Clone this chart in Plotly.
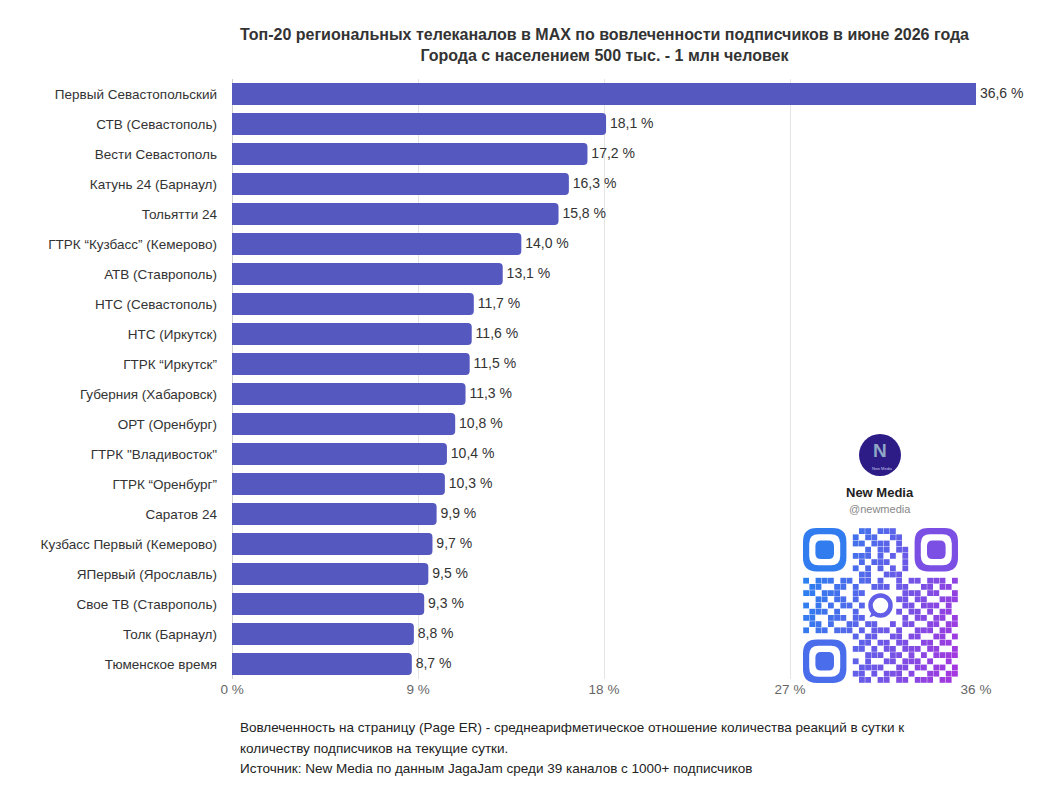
import plotly.graph_objects as go

channels = [
    "Первый Севастопольский", "СТВ (Севастополь)", "Вести Севастополь",
    "Катунь 24 (Барнаул)", "Тольятти 24", "ГТРК “Кузбасс” (Кемерово)",
    "АТВ (Ставрополь)", "НТС (Севастополь)", "НТС (Иркутск)", "ГТРК “Иркутск”",
    "Губерния (Хабаровск)", "ОРТ (Оренбург)", "ГТРК \"Владивосток\"",
    "ГТРК “Оренбург”", "Саратов 24", "Кузбасс Первый (Кемерово)",
    "ЯПервый (Ярославль)", "Свое ТВ (Ставрополь)", "Толк (Барнаул)",
    "Тюменское время",
]
values = [36.6, 18.1, 17.2, 16.3, 15.8, 14.0, 13.1, 11.7, 11.6, 11.5,
          11.3, 10.8, 10.4, 10.3, 9.9, 9.7, 9.5, 9.3, 8.8, 8.7]
tick_vals = [0, 9, 18, 27, 36]
tick_text = ["0 %", "9 %", "18 %", "27 %", "36 %"]
x_max = 36

title_text = ("Топ-20 региональных телеканалов в MAX по вовлеченности подписчиков в июне 2026 года"
              "<br>Города с населением 500 тыс. - 1 млн человек")
footer_lines = [
    "Вовлеченность на страницу (Page ER) - среднеарифметическое отношение количества реакций в сутки к",
    "количеству подписчиков на текущие сутки.",
    "Источник: New Media по данным JagaJam среди 39 каналов с 1000+ подписчиков",
]

W, H = 1050, 800
L, R, T, B = 232, 74, 79, 121
PW, PH = W - L - R, H - T - B


def px(x):
    return (x - L) / PW


def py(y):
    return (H - B - y) / PH


FONT = "Liberation Sans, Arial, sans-serif"
labels = [f"{v:.1f}".replace(".", ",") + " %" for v in values]

fig = go.Figure()
fig.add_trace(go.Bar(
    x=values, y=channels, orientation="h",
    marker=dict(color="#5558BF", line=dict(width=0)),
    hoverinfo="skip",
))
fig.add_trace(go.Scatter(
    x=[min(v, x_max) for v in values], y=channels, mode="text",
    text=[" " + s for s in labels], textposition="middle right",
    textfont=dict(size=14, color="#333333", family=FONT),
    cliponaxis=False, hoverinfo="skip",
))

fig.update_layout(
    width=W, height=H, margin=dict(l=L, r=R, t=T, b=B, autoexpand=False),
    paper_bgcolor="white", plot_bgcolor="white",
    bargap=0.26, barcornerradius=4, showlegend=False,
    font=dict(family=FONT, color="#333333"),
)
fig.update_xaxes(range=[0, x_max], tickvals=tick_vals, ticktext=tick_text,
                 showgrid=True, gridcolor="#e4e4e4", gridwidth=1,
                 zeroline=True, zerolinecolor="#cfcfcf", zerolinewidth=1,
                 tickfont=dict(size=13.5, color="#666666"), ticks="", fixedrange=True,
                 automargin=False)
fig.update_yaxes(range=[len(channels) - 0.5, -0.5], tickfont=dict(size=13.5, color="#333333"),
                 ticks="", ticklabelstandoff=14, showgrid=False, automargin=False)

ann = []
ann.append(dict(text="<b>" + title_text + "</b>", x=px(604), y=py(45), xref="paper", yref="paper",
                showarrow=False, xanchor="center", yanchor="middle",
                font=dict(size=16, color="#333333", family=FONT), align="center"))
for i, line in enumerate(footer_lines):
    ann.append(dict(text=line, x=px(238), y=py(728 + 20 * i), xref="paper", yref="paper",
                    showarrow=False, xanchor="left", yanchor="middle",
                    font=dict(size=13.5, color="#222222", family=FONT)))

# Logo / handle
cx, cy, r = 880, 455, 21
shapes = []
shapes.append(dict(type="circle", xref="paper", yref="paper",
                   x0=px(cx - r), x1=px(cx + r), y0=py(cy + r), y1=py(cy - r),
                   fillcolor="#2d1b86", line=dict(width=0)))
ann.append(dict(text="<b>N</b>", x=px(cx), y=py(cy - 5), xref="paper", yref="paper",
                showarrow=False, xanchor="center", yanchor="middle",
                font=dict(size=19, color="#8fa6c4", family=FONT)))
ann.append(dict(text="New Media", x=px(cx + 2), y=py(cy + 13), xref="paper", yref="paper",
                showarrow=False, xanchor="center", yanchor="middle",
                font=dict(size=4, color="#c8c8ee", family=FONT)))
ann.append(dict(text="<b>New Media</b>", x=px(cx), y=py(493), xref="paper", yref="paper",
                showarrow=False, xanchor="center", yanchor="middle",
                font=dict(size=13, color="#222222", family=FONT)))
ann.append(dict(text="@newmedia", x=px(cx), y=py(509), xref="paper", yref="paper",
                showarrow=False, xanchor="center", yanchor="middle",
                font=dict(size=11, color="#888888", family=FONT)))

# QR-like decoration
qx0, qy0, qs = 803, 528, 155
N = 25
m = qs / N
rows = [
    "........" + "011011100" + "........",
    "........" + "101100110" + "........",
    "........" + "110111010" + "........",
    "........" + "001011011" + "........",
    "........" + "111010101" + "........",
    "........" + "010111001" + "........",
    "........" + "101010101" + "........",
    "........" + "011001110" + "........",
    "1011101101101001011011101",
    "0110011010011101100110110",
    "1101110011.....0111011001",
    "0011011010.....1101100111",
    "1010101101.....0110111010",
    "0111010010.....1011010110",
    "1100111011.....0101101101",
    "0110100110110010110011011",
    "1011011101011101001110110",
    "........" + "10110011011001101",
    "........" + "01101101100110110",
    "........" + "11010110111011001",
    "........" + "00111011010101111",
    "........" + "10100110111010010",
    "........" + "01111001101101101",
    "........" + "11010111010011011",
    "........" + "01101101101110110",
]
c_start = (30, 136, 242)
c_end = (168, 52, 222)


def grad(xp, yp):
    t = 0.75 * (xp - qx0) / qs + 0.25 * (yp - qy0) / qs
    t = max(0.0, min(1.0, t))
    c = [int(round(a + (b - a) * t)) for a, b in zip(c_start, c_end)]
    return f"rgb({c[0]},{c[1]},{c[2]})"


for ri, row in enumerate(rows):
    row = row.ljust(N, "0")[:N]
    for ci, ch in enumerate(row):
        if ch == "1":
            x0 = qx0 + ci * m
            y0 = qy0 + ri * m
            shapes.append(dict(type="rect", xref="paper", yref="paper",
                               x0=px(x0 + 0.2), x1=px(x0 + m - 0.2),
                               y0=py(y0 + m - 0.2), y1=py(y0 + 0.2),
                               fillcolor=grad(x0 + m / 2, y0 + m / 2), line=dict(width=0)))


def rrect(x0, y0, x1, y1, rad):
    p = [
        f"M {px(x0 + rad)},{py(y0)}",
        f"L {px(x1 - rad)},{py(y0)}",
        f"Q {px(x1)},{py(y0)} {px(x1)},{py(y0 + rad)}",
        f"L {px(x1)},{py(y1 - rad)}",
        f"Q {px(x1)},{py(y1)} {px(x1 - rad)},{py(y1)}",
        f"L {px(x0 + rad)},{py(y1)}",
        f"Q {px(x0)},{py(y1)} {px(x0)},{py(y1 - rad)}",
        f"L {px(x0)},{py(y0 + rad)}",
        f"Q {px(x0)},{py(y0)} {px(x0 + rad)},{py(y0)}",
        "Z",
    ]
    return " ".join(p)


for (fc, fr) in [(0, 0), (N - 7, 0), (0, N - 7)]:
    x0 = qx0 + fc * m
    y0 = qy0 + fr * m
    col = grad(x0 + 3.5 * m, y0 + 3.5 * m)
    shapes.append(dict(type="path", xref="paper", yref="paper", path=rrect(x0, y0, x0 + 7 * m, y0 + 7 * m, 2.2 * m),
                       fillcolor=col, line=dict(width=0)))
    shapes.append(dict(type="path", xref="paper", yref="paper",
                       path=rrect(x0 + m, y0 + m, x0 + 6 * m, y0 + 6 * m, 1.5 * m),
                       fillcolor="white", line=dict(width=0)))
    shapes.append(dict(type="path", xref="paper", yref="paper",
                       path=rrect(x0 + 2 * m, y0 + 2 * m, x0 + 5 * m, y0 + 5 * m, 0.9 * m),
                       fillcolor=col, line=dict(width=0)))

# centre chat bubble
bx, by, br = qx0 + 12.5 * m, qy0 + 12.5 * m, 10
shapes.append(dict(type="circle", xref="paper", yref="paper",
                   x0=px(bx - br), x1=px(bx + br), y0=py(by + br), y1=py(by - br),
                   fillcolor="rgba(0,0,0,0)", line=dict(color=grad(bx, by), width=4.5)))
shapes.append(dict(type="path", xref="paper", yref="paper",
                   path=f"M {px(bx - 8)},{py(by + 5)} L {px(bx - 11)},{py(by + 12)} L {px(bx - 3)},{py(by + 9)} Z",
                   fillcolor=grad(bx, by), line=dict(width=0)))

fig.update_layout(annotations=ann, shapes=shapes)
fig.write_html("out.html")
